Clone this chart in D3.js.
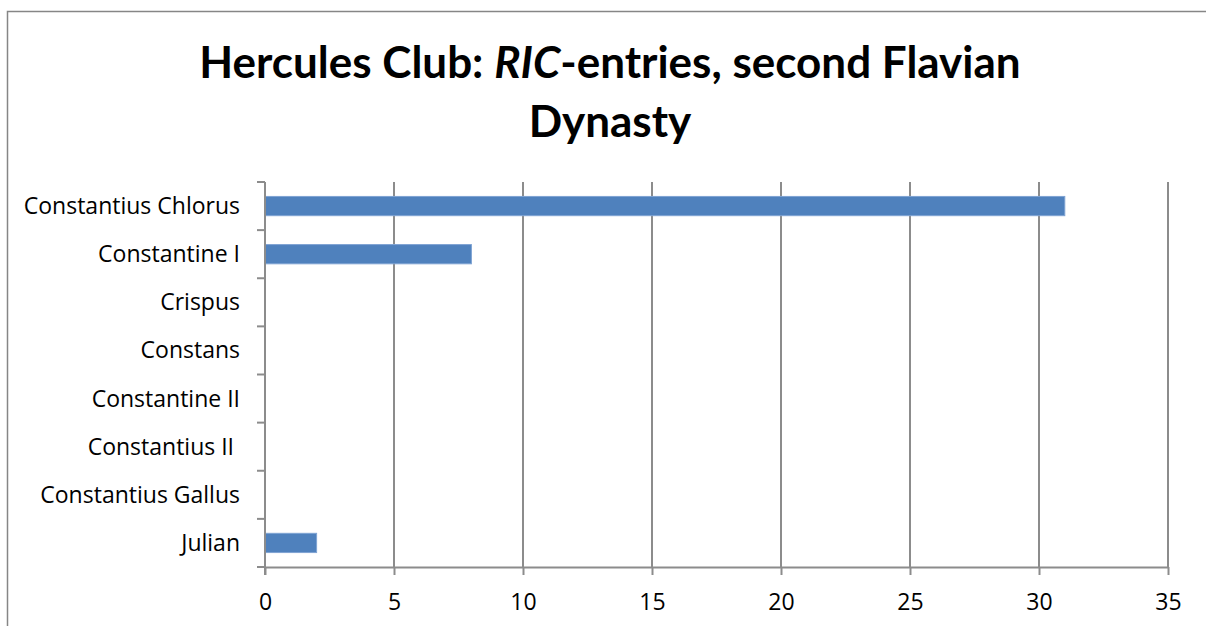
<!DOCTYPE html>
<html>
<head>
<meta charset="utf-8">
<script src="https://cdn.jsdelivr.net/npm/d3@7"></script>
<style>
  body { margin: 0; background: #fff; }
  text { font-family: Lato, "Open Sans", sans-serif; }
</style>
</head>
<body>
<div id="chart"></div>
<script>
var categories = ["Constantius Chlorus", "Constantine I", "Crispus", "Constans",
                  "Constantine II", "Constantius II ", "Constantius Gallus", "Julian"];
var values = [31, 8, 0, 0, 0, 0, 0, 2];
var xTicks = [0, 5, 10, 15, 20, 25, 30, 35];

var width = 1206, height = 626;
var plotLeft = 265, plotRight = 1168, plotTop = 182, plotBottom = 567;
var labelFont = "'Open Sans', sans-serif";

var svg = d3.select("#chart").append("svg")
    .attr("width", width)
    .attr("height", height);

// outer frame (cut off right and bottom like the reference)
svg.append("rect")
    .attr("x", 7.5).attr("y", 11.5)
    .attr("width", 1210).attr("height", 630)
    .attr("fill", "none")
    .attr("stroke", "#868686")
    .attr("stroke-width", 1.5);

var x = d3.scaleLinear().domain([0, 35]).range([plotLeft, plotRight]);
var y = d3.scaleBand().domain(categories).range([plotTop, plotBottom]).paddingInner(0.6).paddingOuter(0.3);

// gridlines
svg.append("g").selectAll("line")
    .data(xTicks.slice(1))
    .join("line")
    .attr("x1", d => x(d)).attr("x2", d => x(d))
    .attr("y1", plotTop).attr("y2", plotBottom)
    .attr("stroke", "#8c8c8c")
    .attr("stroke-width", 2);

// bars
svg.append("g").selectAll("rect")
    .data(values)
    .join("rect")
    .attr("x", x(0))
    .attr("y", (d, i) => y(categories[i]))
    .attr("width", d => x(d) - x(0))
    .attr("height", y.bandwidth())
    .attr("fill", "#4f81bd")
    .attr("stroke", "#7fa3d3")
    .attr("stroke-width", d => d > 0 ? 1 : 0);

// x axis
var xAxis = svg.append("g")
    .attr("transform", "translate(0," + plotBottom + ")")
    .call(d3.axisBottom(x).tickValues(xTicks).tickSizeInner(8).tickSizeOuter(0).tickPadding(19));
xAxis.select(".domain").attr("stroke", "#8c8c8c").attr("stroke-width", 2);
xAxis.selectAll(".tick line").attr("stroke", "#8c8c8c").attr("stroke-width", 2);
xAxis.selectAll("text").attr("font-size", 23).attr("fill", "#000")
    .style("font-family", labelFont);

// y axis with ticks between categories
var yEdges = d3.range(categories.length + 1).map(i => plotTop + i * (plotBottom - plotTop) / categories.length);
svg.append("line")
    .attr("x1", plotLeft).attr("x2", plotLeft)
    .attr("y1", plotTop).attr("y2", plotBottom + 8)
    .attr("stroke", "#8c8c8c").attr("stroke-width", 2);
svg.append("g").selectAll("line")
    .data(yEdges)
    .join("line")
    .attr("x1", plotLeft - 8).attr("x2", plotLeft)
    .attr("y1", d => d).attr("y2", d => d)
    .attr("stroke", "#8c8c8c").attr("stroke-width", 2);
svg.append("g").selectAll("text")
    .data(categories)
    .join("text")
    .attr("x", 240)
    .attr("y", d => y(d) + y.bandwidth() / 2)
    .attr("dy", "0.35em")
    .attr("text-anchor", "end")
    .attr("font-size", 23)
    .attr("fill", "#000")
    .style("font-family", labelFont)
    .style("white-space", "pre")
    .text(d => d);

// title
var title = svg.append("text")
    .attr("x", 610).attr("y", 78)
    .attr("text-anchor", "middle")
    .attr("font-size", 44)
    .attr("font-weight", "bold");
title.append("tspan").text("Hercules Club: ");
title.append("tspan").attr("font-style", "italic").text("RIC");
title.append("tspan").text("-entries, second Flavian");
svg.append("text")
    .attr("x", 610).attr("y", 137)
    .attr("text-anchor", "middle")
    .attr("font-size", 44)
    .attr("font-weight", "bold")
    .text("Dynasty");
</script>
</body>
</html>
